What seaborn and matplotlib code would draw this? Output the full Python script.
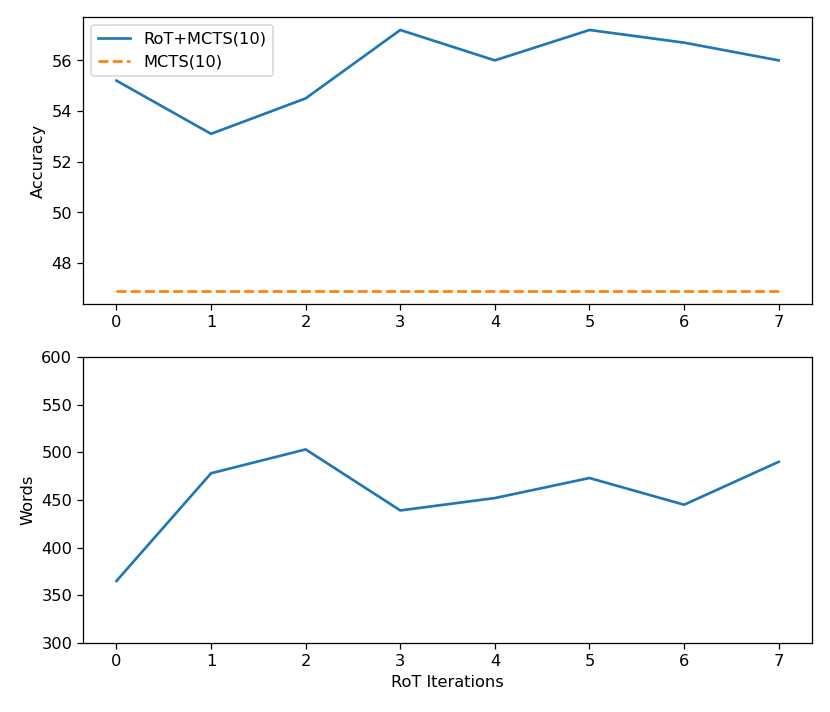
import matplotlib
matplotlib.use("Agg")
import matplotlib.pyplot as plt
import seaborn as sns

# values
iterations = [0, 1, 2, 3, 4, 5, 6, 7]
rot_mcts_acc = [55.2, 53.1, 54.5, 57.2, 56.0, 57.2, 56.7, 56.0]
mcts_acc = [46.9, 46.9, 46.9, 46.9, 46.9, 46.9, 46.9, 46.9]
words = [365, 478, 503, 439, 452, 473, 445, 490]

plt.rcParams['font.size'] = 10.3

fig, (ax1, ax2) = plt.subplots(2, 1, figsize=(7.32, 6.28), dpi=113.4)

# top panel: accuracy
sns.lineplot(x=iterations, y=rot_mcts_acc, ax=ax1, label='RoT+MCTS(10)', color='C0', linewidth=1.7)
sns.lineplot(x=iterations, y=mcts_acc, ax=ax1, label='MCTS(10)', color='C1', linestyle='--', linewidth=1.7)
ax1.set_ylabel('Accuracy')
ax1.set_xticks(iterations)
ax1.legend(loc='upper left')

# bottom panel: words
sns.lineplot(x=iterations, y=words, ax=ax2, color='C0', linewidth=1.7)
ax2.set_ylim(300, 600)
ax2.set_xticks(iterations)
ax2.set_xlabel('RoT Iterations')
ax2.set_ylabel('Words')

# place axes to match the reference layout
ax1.set_position([0.1004, 0.573, 0.8776, 0.403])
ax2.set_position([0.1004, 0.0969, 0.8776, 0.4017])

plt.savefig('out.png')
